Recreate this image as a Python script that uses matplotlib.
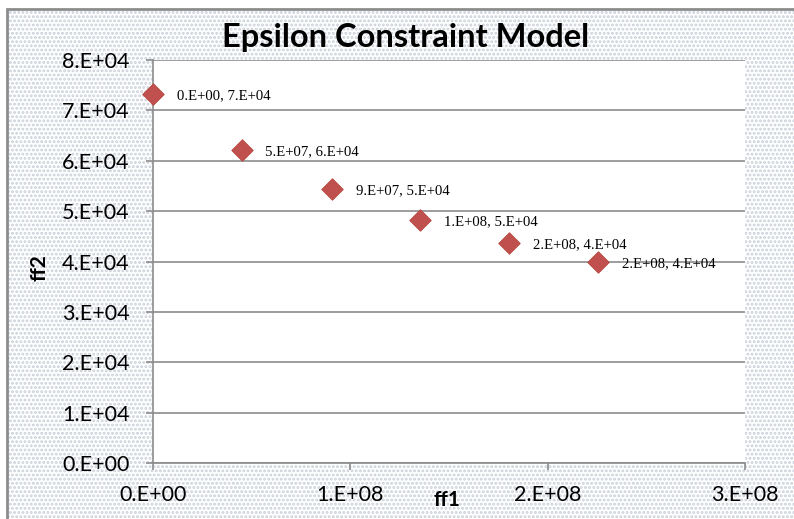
import numpy as np
import matplotlib.pyplot as plt
from matplotlib.patches import Rectangle
from matplotlib.ticker import FuncFormatter

# Epsilon constraint results (ff1, ff2)
ff1 = [0.0, 4.5e7, 9.07e7, 1.353e8, 1.804e8, 2.255e8]
ff2 = [7.32e4, 6.21e4, 5.44e4, 4.82e4, 4.37e4, 3.99e4]
labels = ["0.E+00, 7.E+04", "5.E+07, 6.E+04", "9.E+07, 5.E+04",
          "1.E+08, 5.E+04", "2.E+08, 4.E+04", "2.E+08, 4.E+04"]


def sci(v, pos):
    # Excel style 0.E+00 labels
    if v == 0:
        return "0.E+00"
    exp = int(np.floor(np.log10(abs(v))))
    return "%d.E+%02d" % (round(v / 10 ** exp), exp)


plt.rcParams['font.family'] = ['Lato', 'DejaVu Sans']
plt.rcParams['hatch.linewidth'] = 1.4

fig = plt.figure(figsize=(7.94, 5.19), dpi=100)
fig.patch.set_facecolor('white')

# dotted chart-area background with grey border
bg = Rectangle((7 / 794, 0), 1, 1 - 9 / 519, transform=fig.transFigure,
               facecolor='white', edgecolor='#c9d0da', hatch='....',
               linewidth=0, zorder=-2)
fig.patches.append(bg)
border = Rectangle((7 / 794, -0.01), 1, 1 - 9 / 519 + 0.01, transform=fig.transFigure,
                   facecolor='none', edgecolor='#8c8c8c', linewidth=2, zorder=-1)
fig.patches.append(border)

ax = fig.add_axes([153 / 794, 1 - 463 / 519, 592 / 794, 403 / 519])
ax.set_facecolor('white')
ax.scatter(ff1, ff2, marker='D', s=120, color='#c0504d', edgecolors='#b9443f',
           linewidths=0.6, zorder=3, clip_on=False)
for x, y, t in zip(ff1, ff2, labels):
    ax.annotate(t, (x, y), xytext=(17, -1), textcoords='offset points',
                fontsize=10.6, family='Liberation Serif', va='center', zorder=4)

ax.set_xlim(0, 3e8)
ax.set_ylim(0, 8e4)
ax.set_xticks([0, 1e8, 2e8, 3e8])
ax.set_yticks(np.arange(0, 8.01e4, 1e4))
ax.xaxis.set_major_formatter(FuncFormatter(sci))
ax.yaxis.set_major_formatter(FuncFormatter(sci))
ax.tick_params(axis='both', labelsize=15.5, color='#8c8c8c', length=5, width=1.2)
ax.tick_params(axis='x', pad=11)
ax.tick_params(axis='y', pad=12)
ax.yaxis.grid(True, color='#8c8c8c', linewidth=1.2)
ax.set_axisbelow(True)
for s in ['top', 'right']:
    ax.spines[s].set_visible(False)
for s in ['left', 'bottom']:
    ax.spines[s].set_color('#8c8c8c')
    ax.spines[s].set_linewidth(1.2)

fig.text(406 / 794, 1 - 37 / 519, "Epsilon Constraint Model", ha='center',
         va='center', fontsize=23.5, fontweight='bold')
fig.text(447 / 794, 1 - 500 / 519, "ff1", ha='center', va='center',
         fontsize=15, fontweight='bold')
fig.text(40 / 794, 1 - 268 / 519, "ff2", ha='center', va='center',
         fontsize=15, fontweight='bold', rotation=90)

fig.savefig('out.png', dpi=100)
